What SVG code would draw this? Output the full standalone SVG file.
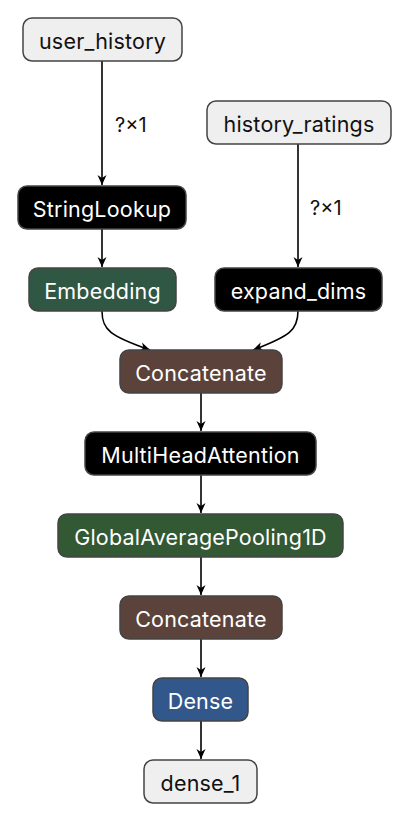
<svg xmlns="http://www.w3.org/2000/svg" width="410" height="822" viewBox="0 0 410 822">
<defs>
<style>
.n rect{stroke:#444;stroke-width:1.5}
.n text{font-family:Inter,"Noto Sans","DejaVu Sans",sans-serif;font-size:21.5px;text-anchor:middle;letter-spacing:0.2px}
.in rect{fill:#efefef}
.in text{fill:#111}
.dk text{fill:#fff}
.e{fill:none;stroke:#000;stroke-width:1.6}
.lbl{font-family:Inter,"Noto Sans","DejaVu Sans",sans-serif;font-size:20px;fill:#111}
</style>
<marker id="ah" viewBox="0 0 10 10" refX="10" refY="5" markerWidth="10" markerHeight="10" orient="auto" markerUnits="userSpaceOnUse">
<path d="M0,0.5 L10,5 L0,9.5 L3,5 z" fill="#000"/>
</marker>
</defs>
<rect width="410" height="822" fill="#fff"/>
<g id="edges">
<path class="e" d="M102,61 V185" marker-end="url(#ah)"/>
<text class="lbl" x="115" y="132">?×1</text>
<path class="e" d="M298,144 V267" marker-end="url(#ah)"/>
<text class="lbl" x="310" y="215">?×1</text>
<path class="e" d="M102,229 V267" marker-end="url(#ah)"/>
<path class="e" d="M102,311 C102,330 110,336 150,350" marker-end="url(#ah)"/>
<path class="e" d="M298,311 C298,330 290,336 253,350" marker-end="url(#ah)"/>
<path class="e" d="M201,393 V431" marker-end="url(#ah)"/>
<path class="e" d="M201,475 V513" marker-end="url(#ah)"/>
<path class="e" d="M201,557 V595" marker-end="url(#ah)"/>
<path class="e" d="M201,639 V677" marker-end="url(#ah)"/>
<path class="e" d="M201,721 V759" marker-end="url(#ah)"/>
</g>
<g id="user_history" class="n in"><rect x="23" y="18" width="159" height="43" rx="9"/><text x="102.5" y="49">user_history</text></g>
<g id="history_ratings" class="n in"><rect x="207" y="101" width="184" height="43" rx="9"/><text x="299" y="132">history_ratings</text></g>
<g id="StringLookup" class="n dk"><rect x="18" y="186" width="168" height="43" rx="9" fill="#000"/><text x="102" y="217">StringLookup</text></g>
<g id="Embedding" class="n dk"><rect x="29" y="268" width="147" height="43" rx="9" fill="#2f5743"/><text x="102.5" y="299">Embedding</text></g>
<g id="expand_dims" class="n dk"><rect x="215" y="268" width="167" height="43" rx="9" fill="#000"/><text x="298.5" y="299">expand_dims</text></g>
<g id="Concatenate" class="n dk"><rect x="120" y="350" width="162" height="43" rx="9" fill="#5b433c"/><text x="201" y="381">Concatenate</text></g>
<g id="MultiHeadAttention" class="n dk"><rect x="85" y="432" width="231" height="43" rx="9" fill="#000"/><text x="200.5" y="463">MultiHeadAttention</text></g>
<g id="GlobalAveragePooling1D" class="n dk"><rect x="58" y="514" width="285" height="43" rx="9" fill="#335834"/><text x="200.5" y="545">GlobalAveragePooling1D</text></g>
<g id="Concatenate_1" class="n dk"><rect x="120" y="596" width="162" height="43" rx="9" fill="#5b433c"/><text x="201" y="627">Concatenate</text></g>
<g id="Dense" class="n dk"><rect x="153" y="678" width="95" height="43" rx="9" fill="#32578a"/><text x="200.5" y="709">Dense</text></g>
<g id="dense_1" class="n in"><rect x="144" y="760" width="113" height="43" rx="9"/><text x="200.5" y="791">dense_1</text></g>
</svg>
